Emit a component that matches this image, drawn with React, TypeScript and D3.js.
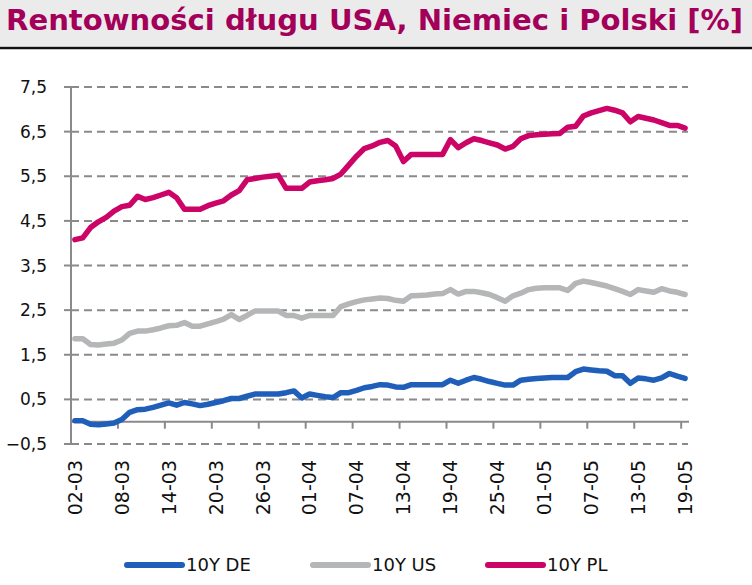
import React from 'react';
import * as d3 from 'd3';

// daily observations 02-03 .. 19-05 (weekends carried forward)
const startDate = new Date(2022, 2, 2);
const endDate = new Date(2022, 4, 20);
const days = d3.timeDay.range(startDate, endDate);
const fmt = d3.timeFormat('%d-%m');
const categories = days.map((d) => fmt(d));

const tickLabels = [
  '02-03', '08-03', '14-03', '20-03', '26-03', '01-04', '07-04',
  '13-04', '19-04', '25-04', '01-05', '07-05', '13-05', '19-05',
];

const yTicks = [-0.5, 0.5, 1.5, 2.5, 3.5, 4.5, 5.5, 6.5, 7.5];

const de10y = [
  0.02, 0.02, -0.06, -0.07, -0.05, -0.03, 0.05, 0.21, 0.27, 0.28,
  0.32, 0.37, 0.42, 0.37, 0.43, 0.4, 0.36, 0.39, 0.43, 0.47,
  0.52, 0.52, 0.57, 0.62, 0.62, 0.62, 0.62, 0.65, 0.69, 0.53,
  0.62, 0.59, 0.56, 0.54, 0.65, 0.65, 0.7, 0.76, 0.79, 0.83,
  0.82, 0.78, 0.77, 0.83, 0.83, 0.83, 0.83, 0.83, 0.93, 0.86,
  0.93, 0.99, 0.95, 0.9, 0.86, 0.82, 0.82, 0.93, 0.95, 0.97,
  0.98, 0.99, 0.99, 0.99, 1.12, 1.18, 1.16, 1.14, 1.13, 1.03,
  1.03, 0.86, 0.98, 0.96, 0.93, 0.98, 1.08, 1.02, 0.97,
];

const us10y = [
  1.86, 1.86, 1.73, 1.72, 1.74, 1.76, 1.83, 1.98, 2.03, 2.03,
  2.06, 2.1, 2.15, 2.16, 2.22, 2.14, 2.14, 2.19, 2.24, 2.3,
  2.4, 2.29, 2.38, 2.48, 2.48, 2.48, 2.48, 2.38, 2.38, 2.32,
  2.38, 2.38, 2.38, 2.38, 2.58, 2.64, 2.69, 2.73, 2.75, 2.77,
  2.76, 2.72, 2.7, 2.82, 2.83, 2.84, 2.86, 2.87, 2.96, 2.86,
  2.92, 2.92, 2.89, 2.85, 2.78, 2.7, 2.82, 2.88, 2.96, 2.99,
  3.0, 3.0, 3.0, 2.94, 3.1, 3.15, 3.12, 3.08, 3.04, 2.98,
  2.92, 2.85, 2.96, 2.93, 2.9, 2.98, 2.93, 2.9, 2.85,
];

const pl10y = [
  4.08, 4.12, 4.35, 4.48, 4.58, 4.72, 4.82, 4.85, 5.05, 4.98,
  5.02, 5.08, 5.14, 5.02, 4.76, 4.76, 4.76, 4.84, 4.9, 4.95,
  5.08, 5.18, 5.42, 5.45, 5.48, 5.5, 5.52, 5.23, 5.23, 5.23,
  5.37, 5.4, 5.42, 5.45, 5.55, 5.75, 5.95, 6.12, 6.18, 6.26,
  6.3, 6.18, 5.83, 5.99, 5.99, 5.99, 5.99, 5.99, 6.32, 6.14,
  6.25, 6.34, 6.3, 6.25, 6.2, 6.11, 6.17, 6.34, 6.41, 6.43,
  6.44, 6.45, 6.46, 6.6, 6.62, 6.85, 6.92, 6.97, 7.02, 6.98,
  6.92, 6.72, 6.84, 6.8, 6.76, 6.7, 6.64, 6.64, 6.58,
];

const series = [
  { name: '10Y DE', values: de10y, color: '#1f5fba' },
  { name: '10Y US', values: us10y, color: '#b5b6b8' },
  { name: '10Y PL', values: pl10y, color: '#cc0467' },
];

const W = 752;
const H = 585;
const font = '"DejaVu Sans", Verdana, sans-serif';

export default function App() {
  const x = d3.scaleBand<string>().domain(categories).range([71, 689]);
  const y = d3.scaleLinear().domain([-0.5, 7.5]).range([444, 87]);
  const cx = (c: string) => x(c)! + x.bandwidth() / 2;

  const line = (vals: number[]) =>
    d3
      .line<number>()
      .x((_, i) => cx(categories[i]))
      .y((v) => y(v))(vals) as string;

  const tickCats = categories.filter((c) => tickLabels.includes(c));
  const comma = (v: number) => d3.format('.1f')(v).replace('.', ',');

  // legend layout
  const legendX = [127, 313, 488];
  const legendY = 565;

  return (
    <svg
      width={W}
      height={H}
      style={{ position: 'absolute', left: 0, top: 0, background: '#fff' }}
    >
      {/* title band */}
      <rect x={0} y={0} width={W} height={46} fill="#ebebeb" />
      <line x1={0} x2={W} y1={48} y2={48} stroke="#111" strokeWidth={2.5} />
      <text
        x={6}
        y={30}
        fontFamily='"DejaVu Sans", sans-serif'
        fontWeight="bold"
        fontSize={28}
        fill="#a3005a"
        textLength={737}
        lengthAdjust="spacingAndGlyphs"
      >
        Rentowności długu USA, Niemiec i Polski [%]
      </text>

      {/* gridlines */}
      {yTicks.map((t) => (
        <g key={t}>
          <line
            x1={71}
            x2={688}
            y1={y(t)}
            y2={y(t)}
            stroke="#8a8a8a"
            strokeWidth={2}
            strokeDasharray="8,5"
          />
          <line x1={64} x2={71} y1={y(t)} y2={y(t)} stroke="#8a8a8a" strokeWidth={2} />
          <text
            x={47}
            y={y(t)}
            dy="0.36em"
            textAnchor="end"
            fontFamily={font}
            fontSize={17}
            fill="#111"
          >
            {comma(t)}
          </text>
        </g>
      ))}

      {/* y axis */}
      <line x1={71} x2={71} y1={y(7.5)} y2={y(-0.5)} stroke="#8a8a8a" strokeWidth={2} />

      {/* x axis at zero */}
      <line x1={71} x2={689} y1={y(0)} y2={y(0)} stroke="#8a8a8a" strokeWidth={2} />
      {tickCats.map((c) => (
        <g key={c}>
          <line
            x1={x(c)!}
            x2={x(c)!}
            y1={y(0)}
            y2={y(0) + 7}
            stroke="#8a8a8a"
            strokeWidth={2}
          />
          <text
            transform={`translate(${cx(c)},460) rotate(-90)`}
            dy="0.36em"
            textAnchor="end"
            fontFamily={font}
            fontSize={19}
            fill="#111"
          >
            {c}
          </text>
        </g>
      ))}

      {/* series */}
      {series.map((s) => (
        <path
          key={s.name}
          d={line(s.values)}
          fill="none"
          stroke={s.color}
          strokeWidth={5.5}
          strokeLinejoin="round"
          strokeLinecap="round"
        />
      ))}

      {/* legend */}
      {series.map((s, i) => (
        <g key={s.name} transform={`translate(${legendX[i]},${legendY})`}>
          <line x1={0} x2={55} y1={0} y2={0} stroke={s.color} strokeWidth={6} strokeLinecap="round" />
          <text x={59} y={0} dy="0.36em" fontFamily={font} fontSize={18} fill="#111">
            {s.name}
          </text>
        </g>
      ))}
    </svg>
  );
}
